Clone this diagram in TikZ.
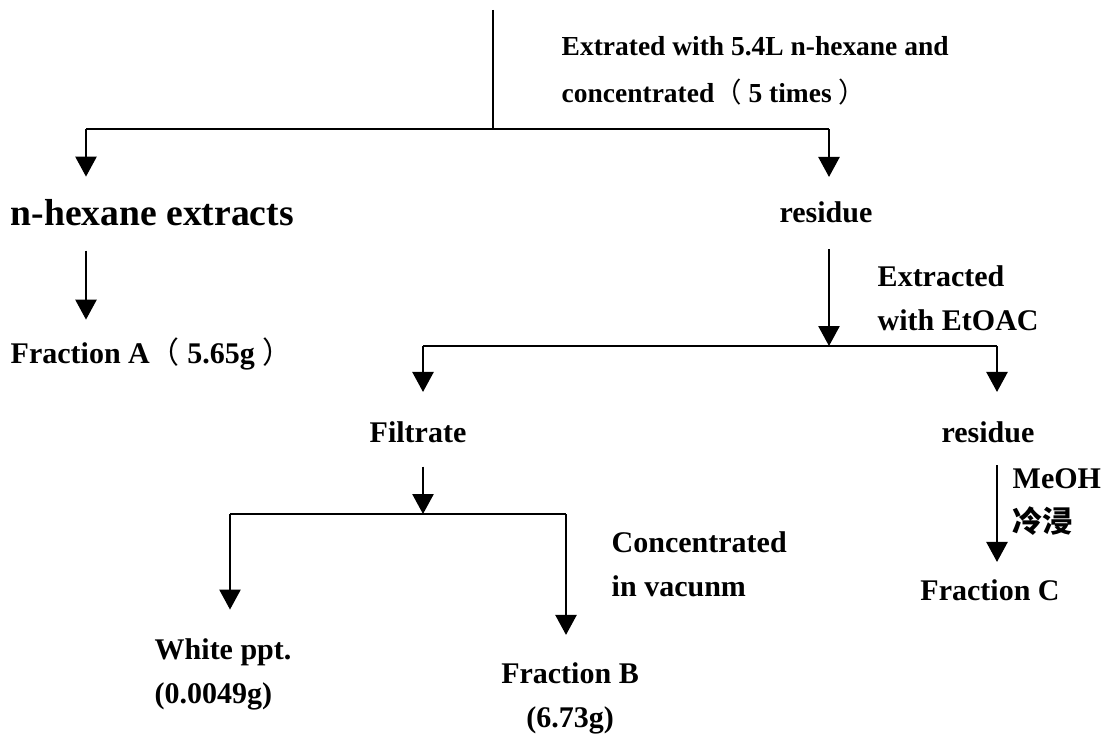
\documentclass[tikz,border=0pt]{standalone}
\usepackage{fontspec}
\setmainfont{Liberation Serif}
\newfontfamily\cjk{Noto Sans CJK SC}
\usetikzlibrary{arrows.meta}

\tikzset{
  every node/.style={inner sep=0pt},
  txt/.style={font=\bfseries\fontsize{22.5}{33}\selectfont, text height=15pt, text depth=0pt, anchor=base},
  big/.style={txt, font=\bfseries\fontsize{28.2}{34}\selectfont, text height=19.5pt},
  note/.style={font=\bfseries\fontsize{22.5}{33}\selectfont, align=left, anchor=west},
  arr/.style={-{Triangle[width=16pt,length=15pt]}},
}

\begin{document}
\begin{tikzpicture}[x=0.75pt,y=-0.75pt,line width=1.1pt]
   \useasboundingbox (0,0) rectangle (1116,734);
   \coordinate (top) at (493,10);
   \coordinate (s1)  at (493,129);
   \coordinate (s1l) at (86,129);
   \coordinate (s1r) at (829,129);
   \coordinate (s2l) at (423,346);
   \coordinate (s2)  at (829,346);
   \coordinate (s2r) at (997,346);
   \coordinate (s3l) at (230,514);
   \coordinate (s3)  at (423,514);
   \coordinate (s3r) at (566,514);

   \node[big,anchor=base west] (hex)   at (10,226)  {n-hexane extracts};
   \node[txt] (res1)  at (826,223) {residue};
   \node[txt,anchor=base west] (fracA) at (10,363)  {Fraction A{\cjk\mdseries （} 5.65g {\cjk\mdseries ）}};
   \node[txt] (filt)  at (418,442) {Filtrate};
   \node[txt] (res2)  at (988,442) {residue};
   \node[txt] (fracC) at (990,600) {Fraction C};
   \node[note] (white) at (154,674) {White ppt.\\(0.0049g)};
   \node[note,align=center,anchor=center] (fracB) at (570,698) {Fraction B\\(6.73g)};

   \node[note,font=\bfseries\fontsize{20.6}{35}\selectfont] (ext1) at (561,71)
        {Extrated with 5.4L n-hexane and\\concentrated{\cjk\mdseries （} 5 times {\cjk\mdseries ）}};
   \node[note] (ext2) at (877,298) {Extracted\\with EtOAC};
   \node[note] (conc) at (611,564) {Concentrated\\in vacunm};
   \node[note] (meoh) at (1012,502) {MeOH\\{\cjk 冷浸}};

   \draw (top) -- (s1);
   \draw (s1l) -- (s1r);
   \draw[arr,shorten >=17pt] (s1l) -- (s1l |- hex.north);
   \draw[arr,shorten >=19pt] (s1r) -- (s1r |- res1.north);
   \draw[arr,shorten <=18pt,shorten >=17pt] (hex.south -| s1l) -- (fracA.north -| s1l);
   \draw[arr,shorten <=19pt] (res1.south -| s2) -- (s2);
   \draw (s2l) -- (s2r);
   \draw[arr,shorten >=22pt] (s2l) -- (s2l |- filt.north);
   \draw[arr,shorten >=22pt] (s2r) -- (s2r |- res2.north);
   \draw[arr,shorten <=18pt] (filt.south -| s3) -- (s3);
   \draw (s3l) -- (s3r);
   \draw[arr,shorten >=21pt] (s3l) -- (s3l |- white.north);
   \draw[arr,shorten >=20pt] (s3r) -- (s3r |- fracB.north);
   \draw[arr,shorten <=17pt,shorten >=13pt] (res2.south -| s2r) -- (fracC.north -| s2r);
\end{tikzpicture}
\end{document}
